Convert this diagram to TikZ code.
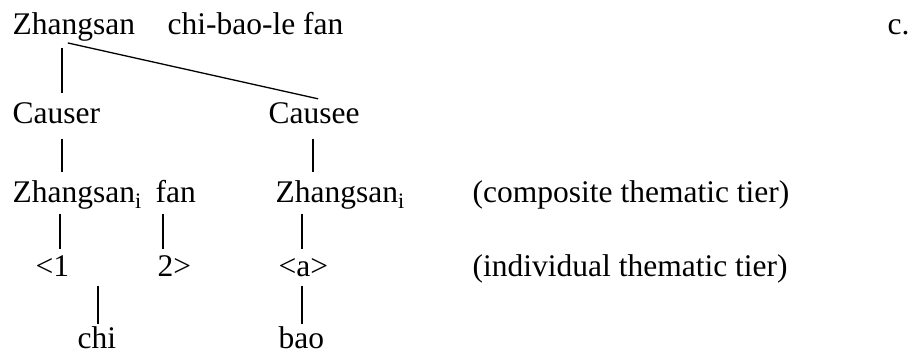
\documentclass[tikz,border=0pt]{standalone}
\usepackage{fontspec}
\setmainfont{Liberation Serif}

\begin{document}
\begin{tikzpicture}[x=1pt, y=-1pt, line width=1.3pt,
    word/.style={anchor=base west, inner sep=0pt, text height=22pt, text depth=7pt,
                 font=\fontsize{31.5}{38}\selectfont},
    tie/.style={shorten <=6pt, shorten >=7pt},
    lowtie/.style={shorten <=4pt, shorten >=4pt}]
  \useasboundingbox (0,0) rectangle (910,356);
  \node[word] (subj) at (12,34) {Zhangsan};
  \node[word] (verb) at (167,34) {chi-bao-le fan};
  \node[word] (lbl) at (887,34) {c.};
  % causer and causee
  \node[word] (causer) at (12,123) {Causer};
  \node[word] (causee) at (268,123) {Causee};
  \draw[tie] ([xshift=50pt]subj.south west) -- ([xshift=50pt]causer.north west);
  \draw[tie] ([xshift=50pt]subj.south west) -- ([xshift=57pt]causee.north west);
  % composite thematic tier
  \node[word] (zhL) at (12,202) {Zhangsan\textsubscript{i}};
  \node[word] (fan) at (155,202) {fan};
  \node[word] (zhR) at (275,202) {Zhangsan\textsubscript{i}};
  \node[word] (comp) at (472,202) {(composite thematic tier)};
  \draw[tie, shorten <=8pt] ([xshift=50pt]causer.south west) -- ([xshift=50pt]zhL.north west);
  \draw[tie, shorten <=8pt] ([xshift=45pt]causee.south west) -- ([xshift=38pt]zhR.north west);
  % individual thematic tier
  \node[word] (one) at (35,276) {<1};
  \node[word] (two) at (157,276) {2>};
  \node[word] (arg) at (278,276) {<a>};
  \node[word] (indiv) at (472,276) {(individual thematic tier)};
  \draw[lowtie] ([xshift=48pt]zhL.south west) -- ([xshift=25pt]one.north west);
  \draw[lowtie] ([xshift=8pt]fan.south west) -- ([xshift=6pt]two.north west);
  \draw[lowtie] ([xshift=27pt]zhR.south west) -- ([xshift=24pt]arg.north west);
  % verbs
  \node[word, text depth=1pt] (chi) at (77,348) {chi};
  \node[word, text depth=1pt] (bao) at (278,348) {bao};
  \draw[lowtie, shorten <=2pt, shorten >=1pt] ([xshift=63pt]one.south west) -- ([xshift=21pt]chi.north west);
  \draw[lowtie, shorten <=2pt, shorten >=1pt] ([xshift=24pt]arg.south west) -- ([xshift=24pt]bao.north west);
\end{tikzpicture}
\end{document}
